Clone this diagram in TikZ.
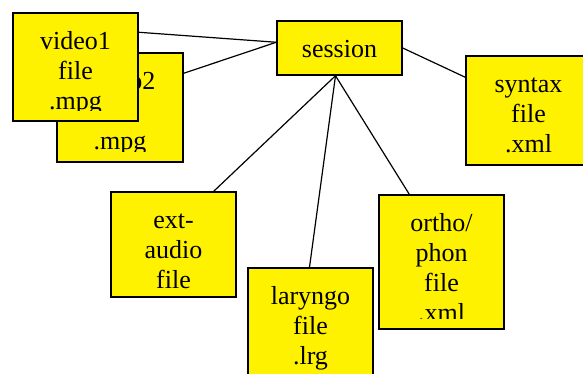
\documentclass[tikz,border=0pt]{standalone}
\usepackage{fontspec}
\setmainfont{Liberation Serif}
\newfontfamily\boxfont{Liberation Serif}
\usepackage{tikz}
\usetikzlibrary{calc,fit}

\tikzset{
	filebox/.style={draw, fill=yellow, line width=1.1pt, inner sep=0pt},
	filetext/.style={anchor=north, align=center, inner sep=0pt, font=\boxfont\fontsize{19.5}{22.5}\selectfont},
	link/.style={line width=0.9pt}
}

\begin{document}
\begin{tikzpicture}[x=0.75pt,y=-0.75pt]

	\clip (0,0) rectangle (583,374); %page

	% file boxes
	\node[filebox, fit={(57,53) (183,162)}] (video2) {};
	\begin{scope}
		\clip (video2.north west) rectangle ($(video2.south east)+(0,-11)$);
		\node[filetext] (video2txt) at ($(video2.north)+(0,16)$) {\strut video2\\file\\.mpg};
	\end{scope}

	\node[filebox, fit={(13,13) (138,121)}] (video1) {};
	\begin{scope}
		\clip (video1.north west) rectangle ($(video1.south east)+(0,-11)$);
		\node[filetext] (video1txt) at ($(video1.north)+(0,16)$) {\strut video1\\file\\.mpg};
	\end{scope}

	\node[filebox, fit={(277,21) (402,75)}] (session) {};
	\node[filetext] (sessiontxt) at ($(session.north)+(0,16)$) {\strut session};

	\node[filebox, fit={(466,56) (591,165)}] (syntax) {};
	\node[filetext] (syntaxtxt) at ($(syntax.north)+(0,16)$) {\strut syntax\\file\\.xml};

	\node[filebox, fit={(111,192) (236,297)}] (extaudio) {};
	\node[filetext] (extaudiotxt) at ($(extaudio.north)+(0,16)$) {\strut ext-\\audio\\file};

	\node[filebox, fit={(248,268) (373,385)}] (laryngo) {};
	\node[filetext] (laryngotxt) at ($(laryngo.north)+(0,16)$) {\strut laryngo\\file\\.lrg};

	\node[filebox, fit={(379,195) (504,329)}] (ortho) {};
	\begin{scope}
		\clip (ortho.north west) rectangle ($(ortho.south east)+(0,-11)$);
		\node[filetext] (orthotxt) at ($(ortho.north)+(0,16)$) {\strut ortho/\\phon\\file\\.xml};
	\end{scope}

	% links
	\coordinate (sw) at ($(session.north west)+(0,22)$);
	\coordinate (sb) at ($(session.south)+(-4,0)$);
	\draw[link] ($(video1.north east)+(0,20)$) -- (sw);
	\draw[link] ($(video2.north east)+(0,21)$) -- (sw);
	\draw[link] (session.east) -- ($(syntax.north west)+(0,22)$);
	\draw[link] (sb) -- ($(extaudio.north east)+(-23,0)$);
	\draw[link] (sb) -- ($(laryngo.north)+(-1,0)$);
	\draw[link] (sb) -- ($(ortho.north west)+(31,0)$);

\end{tikzpicture}
\end{document}
